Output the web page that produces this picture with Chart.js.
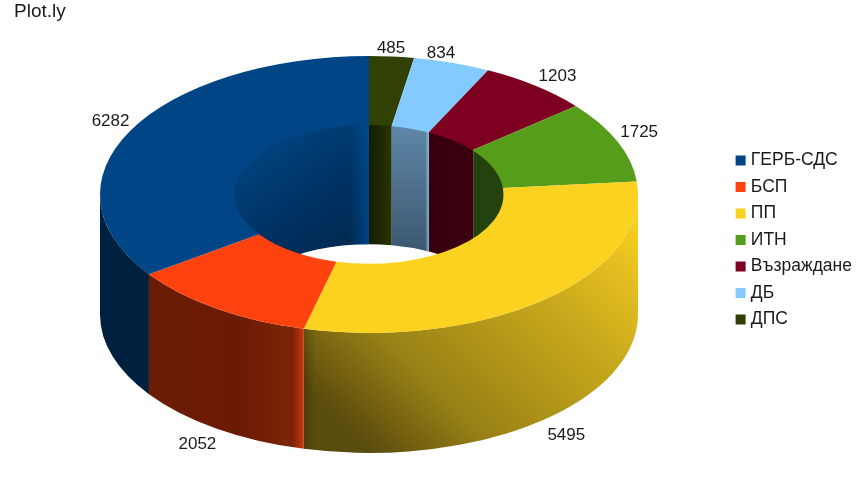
<!DOCTYPE html>
<html>
<head>
<meta charset="utf-8">
<script src="https://cdn.jsdelivr.net/npm/chart.js@4"></script>
<style>
  html, body { margin: 0; background: #fff; }
  canvas { display: block; }
</style>
</head>
<body>
<canvas id="chartCanvas" width="860" height="480"></canvas>
<script>
// slices run clockwise from 12 o'clock, legend shows them reversed
const parties = ["ДПС", "ДБ", "Възраждане", "ИТН", "ПП", "БСП", "ГЕРБ-СДС"];
const votes = [485, 834, 1203, 1725, 5495, 2052, 6282];
const colors = ["#314004", "#83caff", "#7e0021", "#579d1c", "#fbd220", "#ff420e", "#004586"];

// small corrections to the value label spots
const labelNudge = [[-3, 6], [-20, 4], [4, 2], [-5, -3], [3, 5], [-3, 4], [6, -3]];

// --- fake 3D geometry ---
const cx = 369, cy = 194.5, rx = 269, ry = 138.5, depth = 120;
const labelRx = 298, labelRy = 153;

// wall shading: dir h = left to right, v = top down, d = to bottom right, a = to bottom left
// over = extra left to right layer for the thin edge highlights
const outerShade = [
  null, null, null, null,
  {
    dir: "a",
    stops: [[0, "#fbd220"], [0.17, "#e2bc20"], [0.35, "#c8a81c"], [0.55, "#b09518"], [0.75, "#988016"], [0.95, "#66550f"], [1, "#5a4b0f"]],
    over: [[0, "rgba(0,0,0,0.2)"], [0.035, "rgba(0,0,0,0)"]]
  },
  { dir: "h", stops: [[0, "#6b1c04"], [0.6, "#6b1b04"], [0.88, "#7b2306"], [0.93, "#7c2306"], [1, "#c83a10"]] },
  { dir: "h", stops: [[0, "#00203f"], [1, "#00203f"]] }
];
const innerShade = [
  { dir: "h", stops: [[0, "#141c02"], [1, "#2a3505"]] },
  {
    dir: "v",
    stops: [[0, "#5f87a8"], [1, "#3c5870"]],
    over: [[0.9, "rgba(150,205,240,0)"], [1, "rgba(150,205,240,0.8)"]]
  },
  { dir: "h", stops: [[0, "#35000f"], [1, "#3d0011"]] },
  { dir: "h", stops: [[0, "#24420e"], [1, "#24420e"]] },
  { dir: "h", stops: [[0, "#7a6510"], [1, "#7a6510"]] },
  null,
  {
    dir: "d",
    stops: [[0, "#004a8a"], [0.5, "#003060"], [1, "#001f3c"]],
    over: [[0.85, "rgba(0,80,150,0)"], [1, "rgba(0,80,150,0.7)"]]
  }
];

function wallGradient(ctx, dir, stops, a, b, radX, radY) {
  let x0 = Infinity, x1 = -Infinity, y0 = Infinity, y1 = -Infinity;
  for (let i = 0; i <= 24; i++) {
    const t = a + (b - a) * i / 24;
    const x = cx + radX * Math.cos(t), y = cy + radY * Math.sin(t);
    x0 = Math.min(x0, x); x1 = Math.max(x1, x);
    y0 = Math.min(y0, y); y1 = Math.max(y1, y + depth);
  }
  const w = x1 - x0;
  const ends = {
    h: [x0, y0, x1, y0],
    v: [x0, y0, x0, y1],
    d: [x0, y0, x1, y1],
    a: [x1 - 0.05 * w, y0, x0 + 0.2 * w, y1]
  }[dir];
  const g = ctx.createLinearGradient(ends[0], ends[1], ends[2], ends[3]);
  stops.forEach(s => g.addColorStop(s[0], s[1]));
  return g;
}

function drawWall(ctx, shade, a, b, radX, radY) {
  if (b <= a || !shade) return;
  ctx.beginPath();
  ctx.ellipse(cx, cy, radX, radY, 0, a, b);
  ctx.ellipse(cx, cy + depth, radX, radY, 0, b, a, true);
  ctx.closePath();
  ctx.fillStyle = wallGradient(ctx, shade.dir, shade.stops, a, b, radX, radY);
  ctx.fill();
  if (shade.over) {
    ctx.fillStyle = wallGradient(ctx, "h", shade.over, a, b, radX, radY);
    ctx.fill();
  }
}

// walls go under the doughnut, then the arcs are squashed into the top face
const tiltPlugin = {
  id: "tilt",
  beforeDatasetsDraw(chart) {
    const ctx = chart.ctx;
    const arcs = chart.getDatasetMeta(0).data;
    const holeX = rx * arcs[0].innerRadius / arcs[0].outerRadius;
    const holeY = ry * arcs[0].innerRadius / arcs[0].outerRadius;

    // far side of the hole, clip a bit wide so the face edge has no white seam
    ctx.save();
    ctx.beginPath();
    ctx.ellipse(cx, cy, holeX + 1, holeY + 1, 0, 0, Math.PI * 2);
    ctx.clip();
    arcs.forEach((arc, i) => {
      drawWall(ctx, innerShade[i], Math.max(arc.startAngle, -Math.PI / 2), Math.min(arc.endAngle, 0), holeX + 1, holeY + 1);
      drawWall(ctx, innerShade[i], Math.max(arc.startAngle, Math.PI), Math.min(arc.endAngle, Math.PI * 1.5), holeX + 1, holeY + 1);
    });
    ctx.restore();

    // near side of the outer rim
    arcs.forEach((arc, i) => {
      drawWall(ctx, outerShade[i], Math.max(arc.startAngle, 0), Math.min(arc.endAngle, Math.PI), rx, ry);
    });

    const a0 = arcs[0];
    ctx.save();
    ctx.translate(cx, cy);
    ctx.scale(rx / a0.outerRadius, ry / a0.outerRadius);
    ctx.translate(-a0.x, -a0.y);
  },
  afterDatasetsDraw(chart) {
    const ctx = chart.ctx;
    ctx.restore();

    ctx.font = '17px "Liberation Sans"';
    ctx.fillStyle = "#1a1a1a";
    ctx.textAlign = "center";
    ctx.textBaseline = "middle";
    chart.getDatasetMeta(0).data.forEach((arc, i) => {
      const mid = (arc.startAngle + arc.endAngle) / 2;
      const s = Math.sin(mid);
      const x = cx + labelRx * Math.cos(mid) + labelNudge[i][0];
      const y = cy + labelRy * s + (s > 0 ? depth : 0) + labelNudge[i][1];
      ctx.fillText(String(votes[i]), x, y);
    });
  }
};

Chart.defaults.font.family = '"Liberation Sans"';
Chart.defaults.color = "#1a1a1a";

new Chart(document.getElementById("chartCanvas"), {
  type: "doughnut",
  data: {
    labels: parties,
    datasets: [{
      data: votes,
      backgroundColor: colors,
      borderWidth: 0,
      clip: false
    }]
  },
  options: {
    responsive: false,
    animation: false,
    events: [],
    cutout: "50%",
    layout: { padding: { left: 14, right: -2, bottom: 0 } },
    plugins: {
      title: {
        display: true,
        text: "Plot.ly",
        align: "start",
        font: { size: 19, weight: "normal" },
        padding: { top: 0, bottom: 4 }
      },
      legend: {
        position: "right",
        reverse: true,
        labels: {
          usePointStyle: true,
          pointStyle: "rect",
          boxWidth: 3,
          boxHeight: 10,
          padding: 9,
          font: { size: 17.5 }
        }
      },
      tooltip: { enabled: false }
    }
  },
  plugins: [tiltPlugin]
});
</script>
</body>
</html>
